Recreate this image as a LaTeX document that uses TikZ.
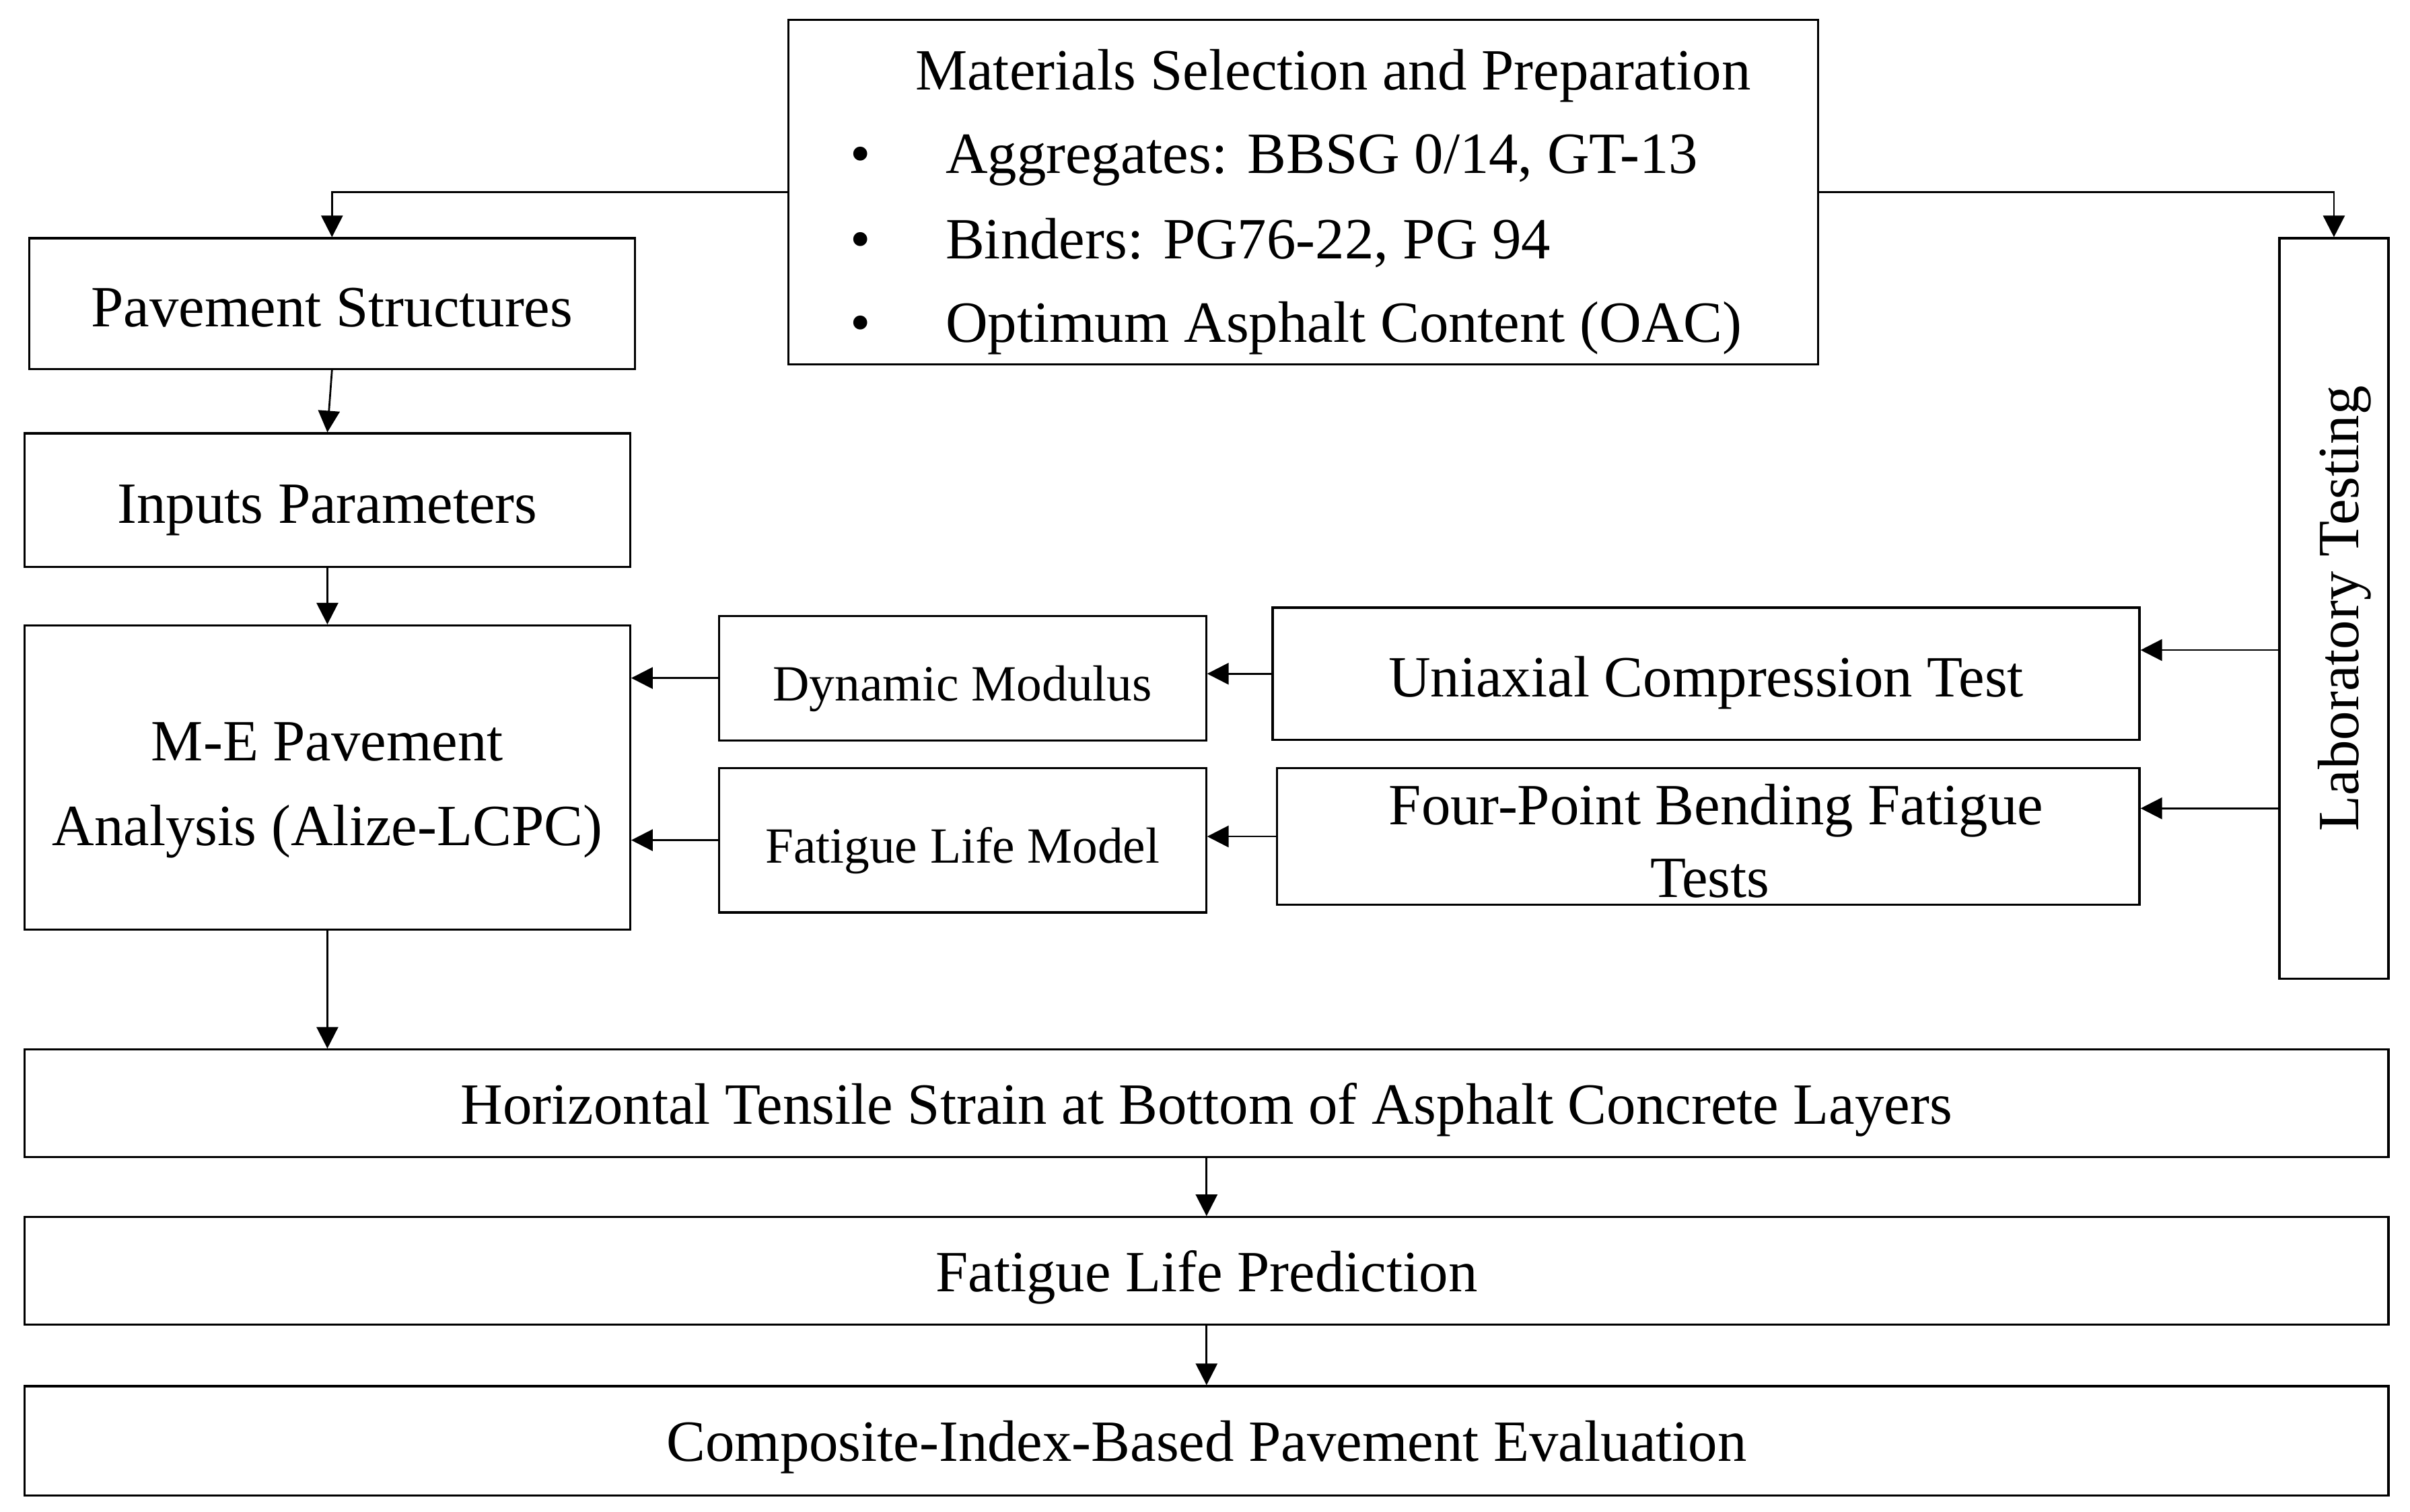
\documentclass[tikz,border=0pt]{standalone}
\usepackage{fontspec}
\setmainfont{Liberation Serif}
\usetikzlibrary{arrows.meta}
\begin{document}
\begin{tikzpicture}[x=1pt,y=-1pt,
  frame/.style={draw=black,line width=1.4pt,rectangle,inner sep=0pt},
  box/.style={frame,font=\fontsize{38}{46}\selectfont,text height=37.6pt,text depth=7.6pt},
  wbox/.style={box,text height=34.2pt,text depth=7.6pt},
  sbox/.style={frame,font=\fontsize{33}{40}\selectfont,text height=36.3pt,text depth=6.6pt},
  txt/.style={inner sep=0pt,font=\fontsize{38}{46}\selectfont,anchor=base},
  arr/.style={line width=1.2pt,-{Triangle[length=14pt,width=14pt]}}]
\useasboundingbox (0,0) rectangle (1568,983.45);
\fill[white] (0,0) rectangle (1568,983.45);
% materials box
\node[frame,minimum width=670,minimum height=224] (mat) at (848,125) {};
\node[txt] (mt) at (867.3,58.4) {Materials Selection and Preparation};
\node[txt] (b1) at (560,112.7) {•};
\node[txt] (b2) at (560,168.5) {•};
\node[txt] (b3) at (560,222.6) {•};
\node[txt,anchor=base west] (t1) at (615,112.7) {Aggregates: BBSG 0/14, GT-13};
\node[txt,anchor=base west] (t2) at (615,168.5) {Binders: PG76-22, PG 94};
\node[txt,anchor=base west] (t3) at (615,222.6) {Optimum Asphalt Content (OAC)};
% left column
\node[box,minimum width=394,minimum height=85] (ps) at (216,197.5) {Pavement Structures};
\node[box,minimum width=394,minimum height=87] (inp) at (213,325.5) {Inputs Parameters};
\node[frame,minimum width=394,minimum height=198] (me) at (213,506) {};
\node[txt] (me1) at (213,494.8) {M-E Pavement};
\node[txt] (me2) at (213,550.3) {Analysis (Alize-LCPC)};
% middle column
\node[sbox,minimum width=317,minimum height=81] (dm) at (626.2,441.2) {Dynamic Modulus};
\node[sbox,minimum width=317,minimum height=94] (flm) at (626.2,546.7) {Fatigue Life Model};
% right column
\node[box,minimum width=564,minimum height=86] (uct) at (1110,438.4) {Uniaxial Compression Test};
\node[frame,minimum width=561,minimum height=89] (fpb) at (1111.5,544.3) {};
\node[txt] (fp1) at (1116.5,536.4) {Four-Point Bending Fatigue};
\node[txt] (fp2) at (1112.6,583.8) {Tests};
\node[frame,minimum width=71,minimum height=482] (lab) at (1518.5,396) {};
\node[txt,rotate=90] (labt) at (1534.3,396) {Laboratory Testing};
% bottom rows
\node[wbox,minimum width=1538,minimum height=70] (hts) at (785,718) {Horizontal Tensile Strain at Bottom of Asphalt Concrete Layers};
\node[wbox,minimum width=1538,minimum height=70] (flp) at (785,827) {Fatigue Life Prediction};
\node[wbox,minimum width=1538,minimum height=71] (cib) at (785,937.5) {Composite-Index-Based Pavement Evaluation};
% connectors
\draw[arr] (mat.west) -| (ps.north);
\draw[arr] (mat.east) -| (lab.north);
\draw[arr] (ps.south) -- (inp.north);
\draw[arr] (inp.south) -- (me.north);
\draw[arr] (me.south) -- (me.south |- hts.north);
\draw[arr] (dm.west) -- (dm.west -| me.east);
\draw[arr] (flm.west) -- (flm.west -| me.east);
\draw[arr] (uct.west) -- (uct.west -| dm.east);
\draw[arr] (fpb.west) -- (fpb.west -| flm.east);
\coordinate (l1) at (1483,423);
\coordinate (l2) at (1483,526);
\draw[arr] (l1) -- (l1 -| uct.east);
\draw[arr] (l2) -- (l2 -| fpb.east);
\draw[arr] (hts.south) -- (flp.north);
\draw[arr] (flp.south) -- (cib.north);
\end{tikzpicture}
\end{document}
